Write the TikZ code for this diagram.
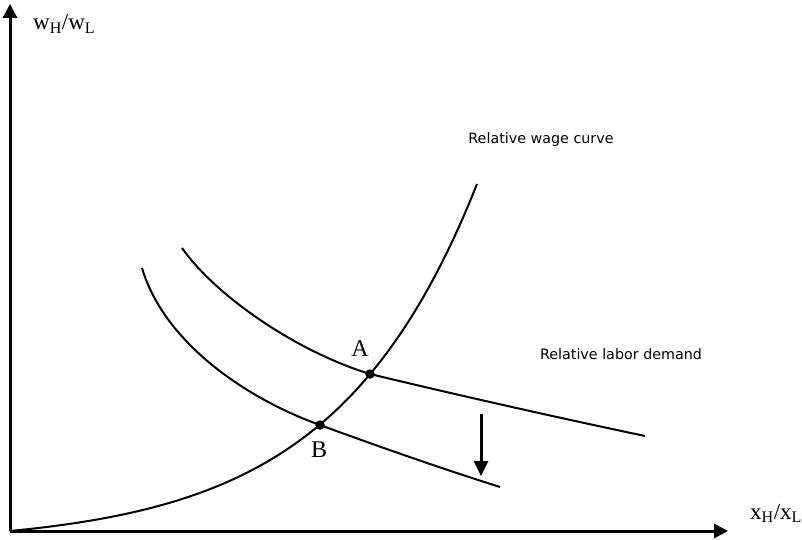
\documentclass[tikz,border=0pt]{standalone}
\usepackage{fontspec}
\setmainfont{Liberation Serif}
\newfontfamily\labelfont{DejaVu Sans}
\usetikzlibrary{positioning, arrows.meta}

\begin{document}
\begin{tikzpicture}[x=1pt, y=-1pt,
  axis/.style={line width=3pt, -{Triangle[length=14pt, width=14pt]}},
  curve/.style={line width=2pt},
  shiftarrow/.style={line width=3pt, -{Triangle[length=15pt, width=14pt]}},
  pt/.style={circle, fill=black, inner sep=0pt, minimum size=9.5pt},
  axlabel/.style={font=\fontsize{23}{25}\selectfont, inner sep=0pt, anchor=base west},
  ptlabel/.style={font=\fontsize{24}{26}\selectfont, inner sep=0pt, anchor=base},
  curvelabel/.style={font=\labelfont\fontsize{14.3}{16}\selectfont, inner sep=0pt}]
\useasboundingbox (0,0) rectangle (802,540);
% axes
\coordinate (O) at (10,531);
\coordinate (ytip) at (10,4);
\coordinate (xtip) at (728,531);
\draw[axis] (O) -- (ytip);
\draw[axis] (O) -- (xtip);
\node[axlabel] (ylab) at (33,30) {w\textsubscript{H}/w\textsubscript{L}};
\node[axlabel] (xlab) at (750,519) {x\textsubscript{H}/x\textsubscript{L}};
% equilibrium points
\coordinate (A) at (370,374);
\coordinate (B) at (320,425);
% relative wage curve
\draw[curve] plot[domain=10:477, samples=80] (\x, {531-13.7*(exp(0.007*(\x-10))-1)});
% relative labor demand, before and after the shift
\coordinate (d1s) at (182,248);
\coordinate (d1e) at (645,436);
\coordinate (d2s) at (142,268);
\coordinate (d2e) at (500,487);
\draw[curve] (d1s) .. controls (215,295) and (295,351) .. (A)
  .. controls (470,398) and (560,418) .. (d1e);
\draw[curve] (d2s) .. controls (165,345) and (250,400) .. (B)
  .. controls (380,447) and (440,468) .. (d2e);
\node[pt] (ptA) at (A) {};
\node[pt] (ptB) at (B) {};
\node[ptlabel] (labA) at (360,356) {A};
\node[ptlabel] (labB) at (319,457) {B};
% shift arrow
\coordinate (sh1) at (481,414);
\coordinate (sh2) at (481,476);
\draw[shiftarrow] (sh1) -- (sh2);
\node[curvelabel] (wage) at (541,140) {Relative wage curve};
\node[curvelabel] (demand) at (621,354) {Relative labor demand};
\end{tikzpicture}
\end{document}
